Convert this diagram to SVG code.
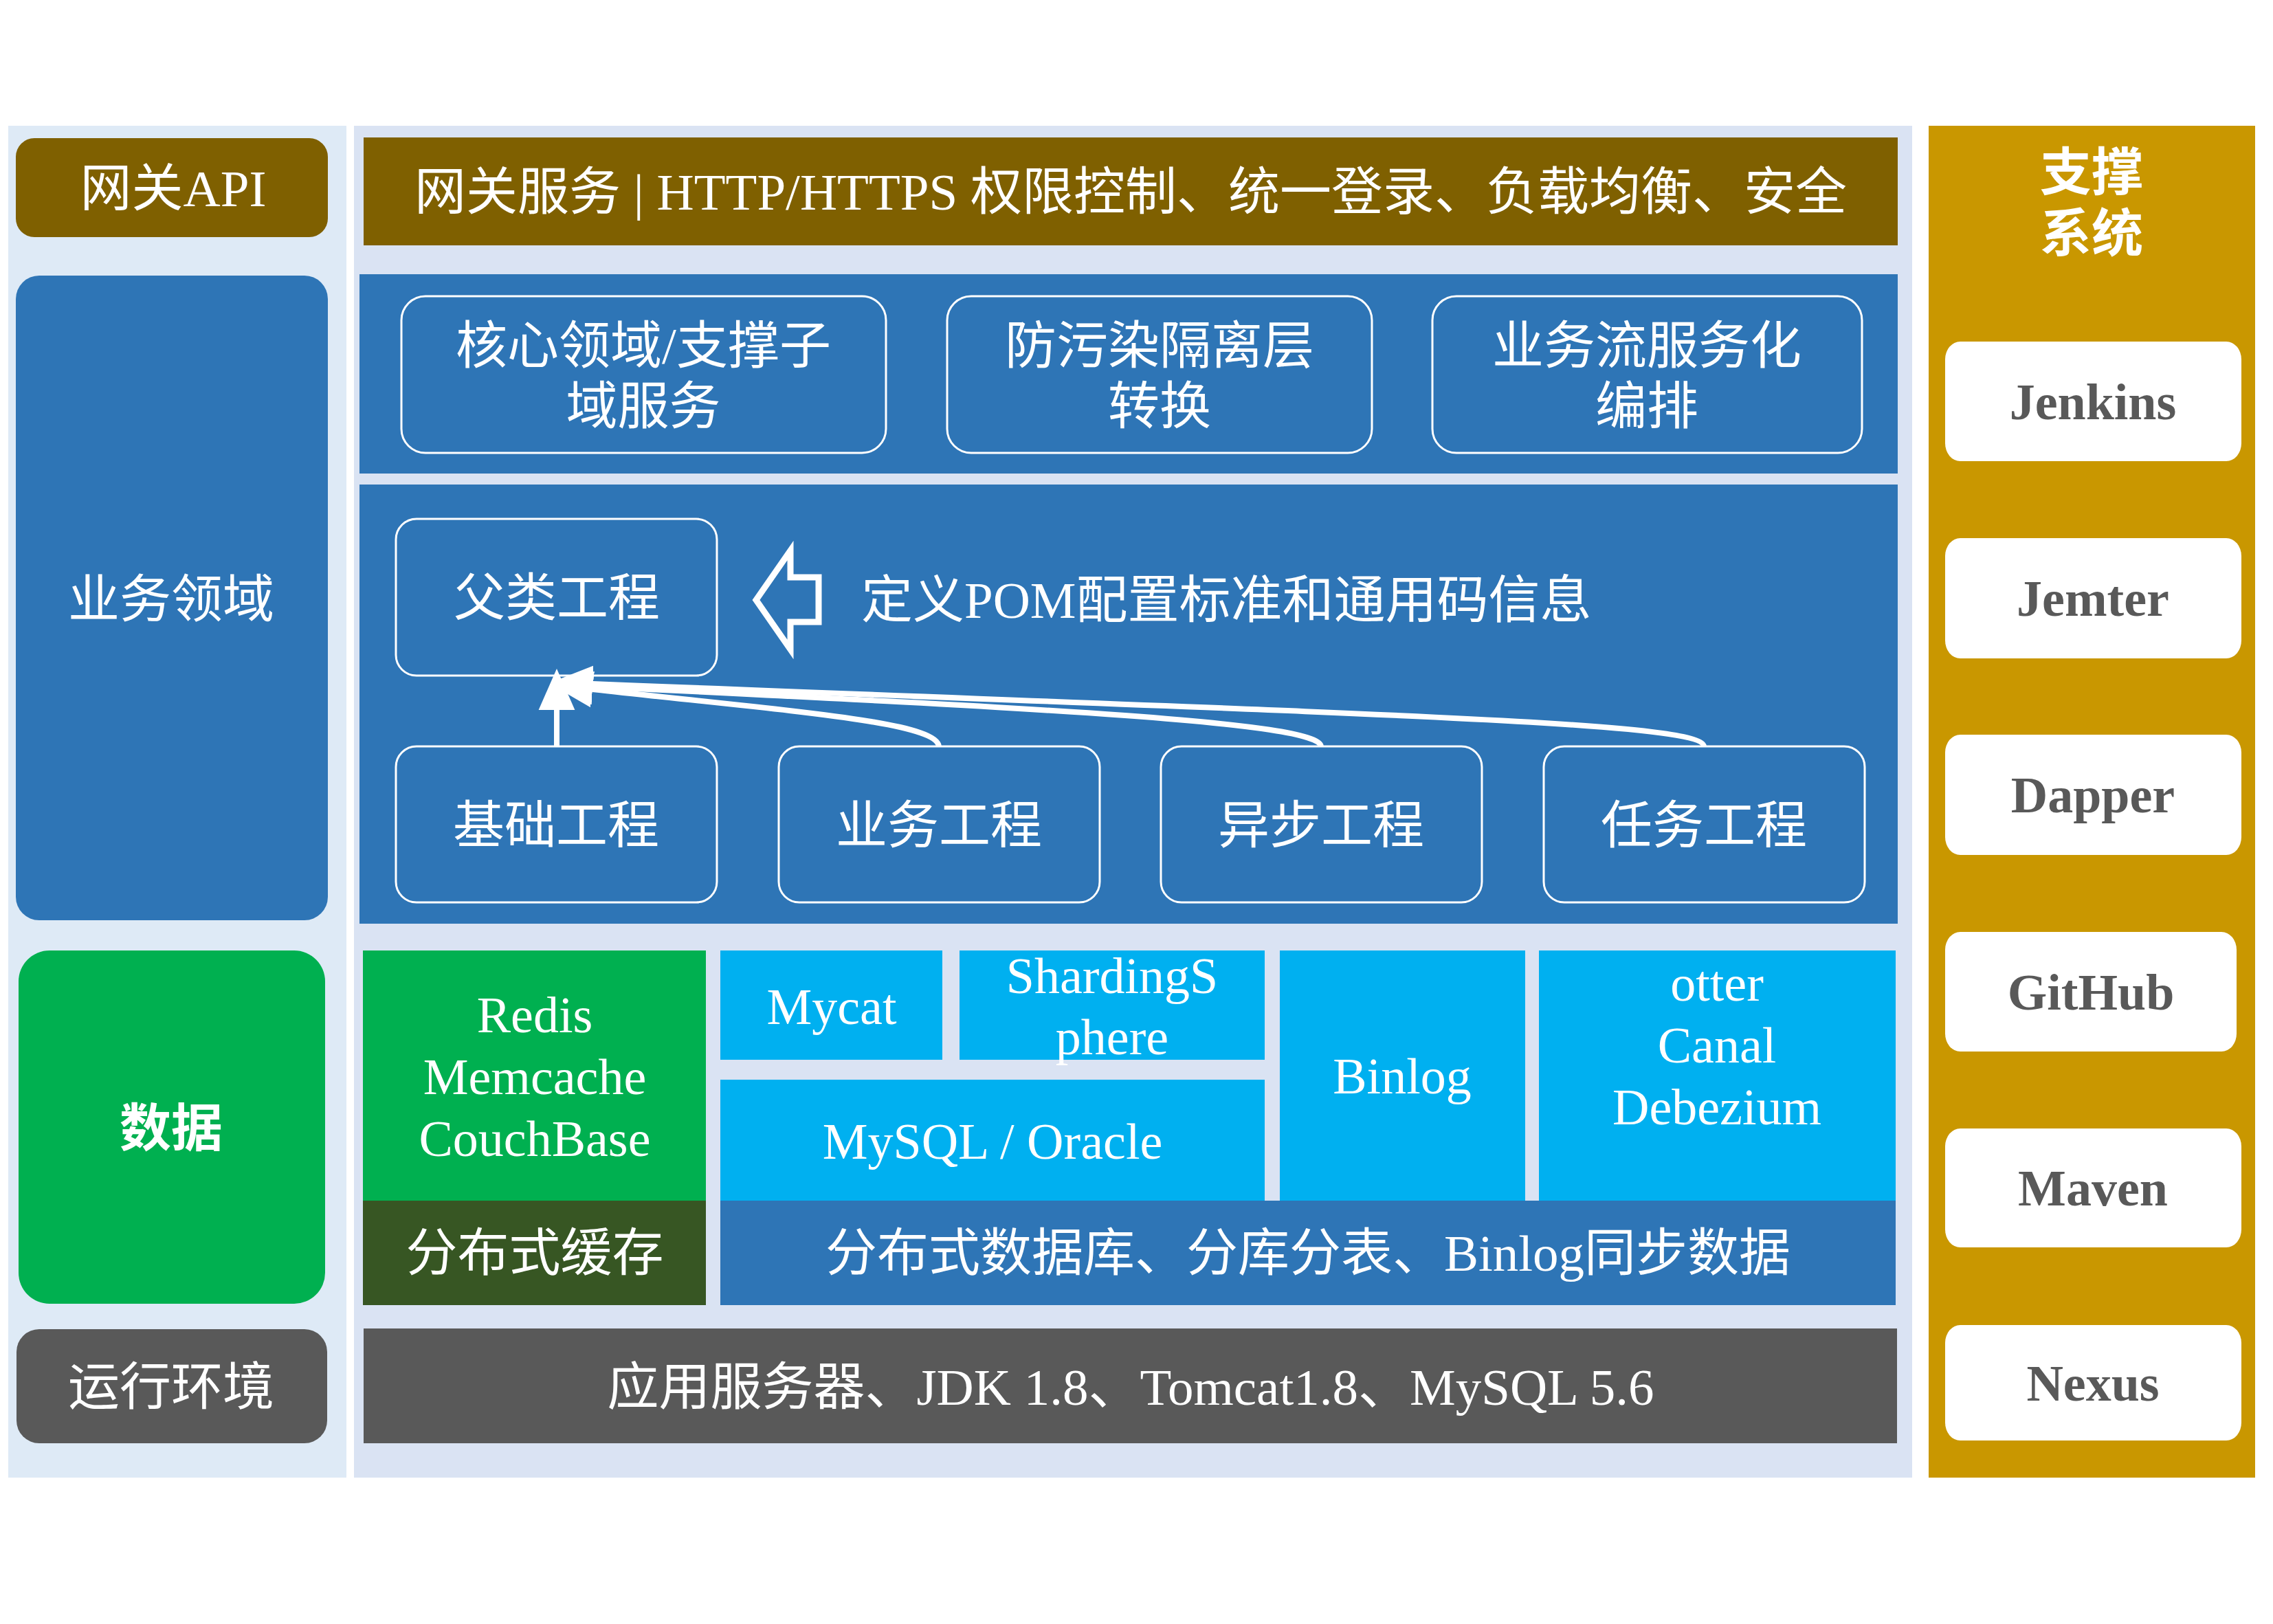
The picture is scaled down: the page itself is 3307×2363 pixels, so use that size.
<svg xmlns="http://www.w3.org/2000/svg" width="3307" height="2363" viewBox="0 0 3307 2363">
  <style>
    .t { font-family: "Liberation Serif", "Noto Sans CJK SC", serif; font-size: 75px; fill: #ffffff; text-anchor: middle; }
    .tb { font-weight: bold; }
    .lat { font-size: 74px; }
    .tool { font-family: "Liberation Serif", serif; font-size: 74px; font-weight: bold; fill: #595959; text-anchor: middle; }
    .ob { fill: #2E75B6; stroke: #ffffff; stroke-width: 3; }
    .tb-box { fill: #ffffff; }
    .conn { fill: none; stroke: #ffffff; stroke-width: 8; }
  </style>
  <defs>
    <marker id="ah" markerUnits="userSpaceOnUse" markerWidth="60" markerHeight="60" viewBox="0 -25 50 50" refX="0" refY="0" orient="auto">
      <path d="M0,-22 L50,0 L0,22 Z" fill="#ffffff"/>
    </marker>
  </defs>
  <rect x="0" y="0" width="3307" height="2363" fill="#ffffff"/>

  <!-- panels -->
  <g id="panels">
    <rect x="12" y="183" width="492" height="1967" fill="#DEEAF6"/>
    <rect x="515" y="183" width="2267" height="1967" fill="#DAE3F3"/>
    <rect x="2806" y="183" width="475" height="1967" fill="#C99700"/>
  </g>

  <!-- left column -->
  <g id="gateway-api">
    <rect x="23" y="201" width="454" height="144" rx="27" fill="#7F6000"/>
    <text class="t" x="252" y="300">网关API</text>
  </g>
  <g id="business-domain">
    <rect x="23" y="401" width="454" height="938" rx="34" fill="#2E75B6"/>
    <text class="t" x="249" y="898">业务领域</text>
  </g>
  <g id="data">
    <rect x="27" y="1383" width="446" height="514" rx="45" fill="#00B050"/>
    <text class="t tb" x="249" y="1668">数据</text>
  </g>
  <g id="runtime">
    <rect x="24" y="1934" width="452" height="166" rx="33" fill="#595959"/>
    <text class="t" x="249" y="2044">运行环境</text>
  </g>

  <!-- gateway service -->
  <g id="gateway-service">
    <rect x="529" y="200" width="2232" height="157" fill="#7F6000"/>
    <text class="t" x="1645" y="305">网关服务 | HTTP/HTTPS 权限控制、统一登录、负载均衡、安全</text>
  </g>

  <!-- service layer -->
  <g id="service-panel">
    <rect x="523" y="399" width="2238" height="290" fill="#2E75B6"/>
  </g>
  <g id="core-domain">
    <rect class="ob" x="584" y="431" width="705" height="228" rx="35"/>
    <text class="t" x="936" y="529">核心领域/支撑子</text>
    <text class="t" x="936" y="617">域服务</text>
  </g>
  <g id="anti-corruption">
    <rect class="ob" x="1378" y="431" width="618" height="228" rx="35"/>
    <text class="t" x="1687" y="529">防污染隔离层</text>
    <text class="t" x="1687" y="617">转换</text>
  </g>
  <g id="orchestration">
    <rect class="ob" x="2084" y="431" width="625" height="228" rx="35"/>
    <text class="t" x="2396" y="529">业务流服务化</text>
    <text class="t" x="2396" y="617">编排</text>
  </g>

  <!-- project layer -->
  <g id="project-panel">
    <rect x="523" y="705" width="2238" height="639" fill="#2E75B6"/>
  </g>
  <g id="parent-project">
    <rect class="ob" x="576" y="755" width="467" height="228" rx="30"/>
    <text class="t" x="810" y="896">父类工程</text>
  </g>
  <g id="pom-note">
    <polygon points="1100,873 1150,801 1150,840 1191,840 1191,905 1150,905 1150,945" fill="none" stroke="#ffffff" stroke-width="9" stroke-linejoin="miter"/>
    <text class="t" x="1253" y="899" style="text-anchor:start">定义POM配置标准和通用码信息</text>
  </g>
  <g id="base-project">
    <rect class="ob" x="576" y="1086" width="467" height="227" rx="30"/>
    <text class="t" x="809" y="1227">基础工程</text>
  </g>
  <g id="biz-project">
    <rect class="ob" x="1133" y="1086" width="467" height="227" rx="30"/>
    <text class="t" x="1366" y="1227">业务工程</text>
  </g>
  <g id="async-project">
    <rect class="ob" x="1689" y="1086" width="467" height="227" rx="30"/>
    <text class="t" x="1922" y="1227">异步工程</text>
  </g>
  <g id="task-project">
    <rect class="ob" x="2246" y="1086" width="467" height="227" rx="30"/>
    <text class="t" x="2479" y="1227">任务工程</text>
  </g>

  <g id="connectors">
    <path class="conn" d="M810,1086 L810,1033" marker-end="url(#ah)"/>
    <path class="conn" d="M1366,1086 C1363,1050 1150,1035 862,1003" marker-end="url(#ah)"/>
    <path class="conn" d="M1922,1086 C1920,1050 1500,1030 862,999" marker-end="url(#ah)"/>
    <path class="conn" d="M2479,1086 C2477,1050 2000,1040 862,995" marker-end="url(#ah)"/>
  </g>

  <!-- data layer -->
  <g id="cache">
    <rect x="528" y="1383" width="499" height="364" fill="#00B050"/>
    <text class="t lat" x="778" y="1502">Redis</text>
    <text class="t lat" x="778" y="1592">Memcache</text>
    <text class="t lat" x="778" y="1682">CouchBase</text>
  </g>
  <g id="cache-label">
    <rect x="528" y="1747" width="499" height="152" fill="#375623"/>
    <text class="t" x="778" y="1849">分布式缓存</text>
  </g>
  <g id="mycat">
    <rect x="1048" y="1383" width="323" height="159" fill="#00B0F0"/>
    <text class="t lat" x="1210" y="1490">Mycat</text>
  </g>
  <g id="shardingsphere">
    <rect x="1396" y="1383" width="444" height="159" fill="#00B0F0"/>
    <text class="t lat" x="1618" y="1445">ShardingS</text>
    <text class="t lat" x="1618" y="1534">phere</text>
  </g>
  <g id="mysql-oracle">
    <rect x="1048" y="1571" width="792" height="176" fill="#00B0F0"/>
    <text class="t lat" x="1444" y="1686">MySQL / Oracle</text>
  </g>
  <g id="binlog">
    <rect x="1862" y="1383" width="357" height="364" fill="#00B0F0"/>
    <text class="t lat" x="2040" y="1591">Binlog</text>
  </g>
  <g id="sync-tools">
    <rect x="2239" y="1383" width="519" height="364" fill="#00B0F0"/>
    <text class="t lat" x="2498" y="1456">otter</text>
    <text class="t lat" x="2498" y="1546">Canal</text>
    <text class="t lat" x="2498" y="1636">Debezium</text>
  </g>
  <g id="db-label">
    <rect x="1048" y="1747" width="1710" height="152" fill="#2E75B6"/>
    <text class="t" x="1903" y="1849">分布式数据库、分库分表、Binlog同步数据</text>
  </g>

  <!-- runtime bar -->
  <g id="runtime-bar">
    <rect x="529" y="1933" width="2231" height="167" fill="#595959"/>
    <text class="t" x="1645" y="2044">应用服务器、JDK 1.8、Tomcat1.8、MySQL 5.6</text>
  </g>

  <!-- support system -->
  <g id="support-title">
    <text class="t tb" x="3043" y="277">支撑</text>
    <text class="t tb" x="3043" y="366">系统</text>
  </g>
  <g id="jenkins">
    <rect class="tb-box" x="2830" y="497" width="431" height="174" rx="22" ry="26"/>
    <text class="tool" x="3045" y="610">Jenkins</text>
  </g>
  <g id="jemter">
    <rect class="tb-box" x="2830" y="783" width="431" height="175" rx="22" ry="26"/>
    <text class="tool" x="3045" y="896">Jemter</text>
  </g>
  <g id="dapper">
    <rect class="tb-box" x="2830" y="1069" width="431" height="175" rx="22" ry="26"/>
    <text class="tool" x="3045" y="1182">Dapper</text>
  </g>
  <g id="github">
    <rect class="tb-box" x="2830" y="1356" width="424" height="174" rx="22" ry="26"/>
    <text class="tool" x="3042" y="1469">GitHub</text>
  </g>
  <g id="maven">
    <rect class="tb-box" x="2830" y="1642" width="431" height="173" rx="22" ry="26"/>
    <text class="tool" x="3045" y="1754">Maven</text>
  </g>
  <g id="nexus">
    <rect class="tb-box" x="2830" y="1928" width="431" height="168" rx="22" ry="26"/>
    <text class="tool" x="3045" y="2038">Nexus</text>
  </g>
</svg>
